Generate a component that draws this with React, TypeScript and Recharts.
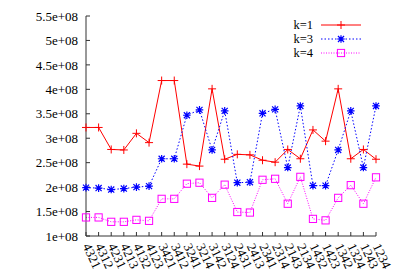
import React from 'react';
import { LineChart, Line, XAxis, YAxis, Legend } from 'recharts';

const categories = ['4321','4312','4231','4213','4132','4123','3421','3412','3241','3214','3142','3124','2431','2413','2341','2314','2143','2134','1432','1423','1342','1324','1243','1234'];
const k1 = [3.22e8,3.22e8,2.77e8,2.76e8,3.10e8,2.91e8,4.18e8,4.18e8,2.47e8,2.43e8,4.01e8,2.57e8,2.67e8,2.66e8,2.55e8,2.51e8,2.77e8,2.58e8,3.17e8,2.94e8,4.01e8,2.58e8,2.77e8,2.57e8];
const k3 = [1.99e8,1.98e8,1.95e8,1.97e8,2.00e8,2.02e8,2.58e8,2.58e8,3.47e8,3.58e8,2.76e8,3.56e8,2.09e8,2.10e8,3.51e8,3.59e8,2.40e8,3.66e8,2.03e8,2.03e8,2.76e8,3.56e8,2.40e8,3.66e8];
const k4 = [1.38e8,1.38e8,1.29e8,1.29e8,1.33e8,1.31e8,1.76e8,1.76e8,2.07e8,2.09e8,1.78e8,2.05e8,1.49e8,1.48e8,2.15e8,2.17e8,1.66e8,2.21e8,1.35e8,1.32e8,1.78e8,2.04e8,1.66e8,2.20e8];
const yTicks = [1e8,1.5e8,2e8,2.5e8,3e8,3.5e8,4e8,4.5e8,5e8,5.5e8];
const seriesNames = ['k=1','k=3','k=4'];

const data = categories.map((c, i) => ({ name: c, k1: k1[i], k3: k3[i], k4: k4[i] }));

const FONT = '"Liberation Serif", "DejaVu Serif", serif';
const AXIS = '#333';
const RED = '#ff0000';
const BLUE = '#0000ff';
const MAG = '#ff00ff';

const plusPath = (cx: number, cy: number, r: number) => `M${cx - r},${cy}H${cx + r}M${cx},${cy - r}V${cy + r}`;
const starPath = (cx: number, cy: number, r: number) => {
  const d = r * 0.8;
  return `${plusPath(cx, cy, r)}M${cx - d},${cy - d}L${cx + d},${cy + d}M${cx - d},${cy + d}L${cx + d},${cy - d}`;
};

const PlusDot = (p: any) => p.cx == null ? <g key={`p${p.index}`} /> : (
  <path key={`p${p.index}`} d={plusPath(p.cx, p.cy, 4)} stroke={RED} strokeWidth={1} fill="none" />
);
const StarDot = (p: any) => p.cx == null ? <g key={`s${p.index}`} /> : (
  <path key={`s${p.index}`} d={starPath(p.cx, p.cy, 3.8)} stroke={BLUE} strokeWidth={1.2} fill="none" />
);
const SquareDot = (p: any) => p.cx == null ? <g key={`q${p.index}`} /> : (
  <rect key={`q${p.index}`} x={p.cx - 3.6} y={p.cy - 3.6} width={7.2} height={7.2} stroke={MAG} strokeWidth={1} fill="none" />
);

const XTick = (props: any) => {
  const { x, y, payload } = props;
  const sx = x - 3.5;
  const sy = y + 14;
  return (
    <text x={sx} y={sy} transform={`rotate(65 ${sx} ${sy})`} textAnchor="start" fontSize={13} fontFamily={FONT} fill="#000">
      {payload.value}
    </text>
  );
};

const fmtY = (v: number) => `${v / 1e8}e+08`;

const LegendBox = () => {
  const rows = [
    { name: seriesNames[0], y: 10, color: RED, dash: undefined as string | undefined, mark: 'plus' },
    { name: seriesNames[1], y: 24, color: BLUE, dash: '1.5 2', mark: 'star' },
    { name: seriesNames[2], y: 38, color: MAG, dash: '1 1.5', mark: 'square' },
  ];
  return (
    <svg width={110} height={48} style={{ display: 'block' }}>
      {rows.map((r) => (
        <g key={r.name}>
          <text x={28} y={r.y} dy="0.355em" textAnchor="end" fontSize={12.5} fontFamily={FONT} fill="#000">{r.name}</text>
          <line x1={36} x2={76} y1={r.y} y2={r.y} stroke={r.color} strokeWidth={1} strokeDasharray={r.dash} />
          {r.mark === 'plus' && <path d={plusPath(56, r.y, 4)} stroke={r.color} strokeWidth={1} fill="none" />}
          {r.mark === 'star' && <path d={starPath(56, r.y, 3.8)} stroke={r.color} strokeWidth={1.2} fill="none" />}
          {r.mark === 'square' && <rect x={52.4} y={r.y - 3.6} width={7.2} height={7.2} stroke={r.color} strokeWidth={1} fill="none" />}
        </g>
      ))}
    </svg>
  );
};

export default function App() {
  return (
    <div style={{ position: 'absolute', left: 0, top: 0, width: 399, height: 279, background: '#fff' }}>
      <LineChart width={399} height={279} data={data} margin={{ top: 16, right: 23, left: 0, bottom: 0 }}>
        <XAxis dataKey="name" xAxisId={0} interval={0} height={43} tickSize={-4} tickMargin={0}
          stroke={AXIS} tickLine={{ stroke: AXIS }} axisLine={{ stroke: AXIS }} tick={<XTick />} />
        <XAxis dataKey="name" xAxisId="top" orientation="top" interval={0} height={0} tickSize={-4}
          stroke={AXIS} tickLine={{ stroke: AXIS }} axisLine={{ stroke: AXIS }} tick={false} />
        <YAxis yAxisId={0} domain={[1e8, 5.5e8]} ticks={yTicks} width={86} tickSize={-4} tickMargin={12}
          interval={0} allowDataOverflow stroke={AXIS} tickLine={{ stroke: AXIS }} axisLine={{ stroke: AXIS }}
          tickFormatter={fmtY} tick={{ fontSize: 13, fontFamily: FONT, fill: '#000' }} />
        <YAxis yAxisId="right" orientation="right" domain={[1e8, 5.5e8]} ticks={yTicks} width={0} tickSize={-4}
          interval={0} allowDataOverflow stroke={AXIS} tickLine={{ stroke: AXIS }} axisLine={{ stroke: AXIS }} tick={false} />
        <Legend layout="vertical" align="center" verticalAlign="middle" content={<LegendBox />}
          wrapperStyle={{ position: 'absolute', left: 285, top: 15, width: 110, height: 48 }} />
        <Line dataKey="k1" name={seriesNames[0]} xAxisId={0} yAxisId={0} stroke={RED} strokeWidth={1} dot={PlusDot} activeDot={false} isAnimationActive={false} />
        <Line dataKey="k3" name={seriesNames[1]} xAxisId={0} yAxisId={0} stroke={BLUE} strokeWidth={1} strokeDasharray="1.5 2" dot={StarDot} activeDot={false} isAnimationActive={false} />
        <Line dataKey="k4" name={seriesNames[2]} xAxisId={0} yAxisId={0} stroke={MAG} strokeWidth={1} strokeDasharray="1 1.5" dot={SquareDot} activeDot={false} isAnimationActive={false} />
      </LineChart>
    </div>
  );
}
